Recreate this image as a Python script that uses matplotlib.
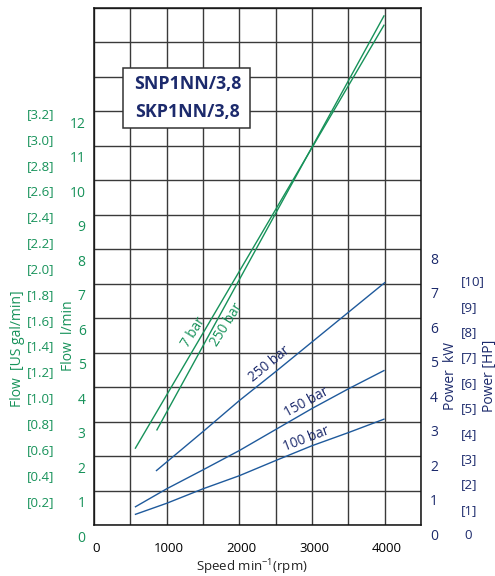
import matplotlib
matplotlib.use('Agg')
import matplotlib.pyplot as plt
import matplotlib.transforms as mtransforms
from matplotlib.patches import Rectangle
import numpy as np

plt.rcParams['font.family'] = ['Open Sans', 'DejaVu Sans']
plt.rcParams['mathtext.default'] = 'regular'

# ---------------- data ----------------
speed_ticks = [0, 1000, 2000, 3000, 4000]
flow_ticks = list(range(0, 13))
gal_ticks = [0.2, 0.4, 0.6, 0.8, 1.0, 1.2, 1.4, 1.6, 1.8, 2.0, 2.2, 2.4, 2.6, 2.8, 3.0, 3.2]
gal_labels = ['[0.2]', '[0.4]', '[0.6]', '[0.8]', '[1.0]', '[1.2]', '[1.4]', '[1.6]',
              '[1.8]', '[2.0]', '[2.2]', '[2.4]', '[2.6]', '[2.8]', '[3.0]', '[3.2]']
kw_ticks = list(range(0, 9))
hp_ticks = list(range(0, 11))
hp_labels = ['0', '[1]', '[2]', '[3]', '[4]', '[5]', '[6]', '[7]', '[8]', '[9]', '[10]']
GAL_TO_LPM = 3.75     # as drawn on the chart
HP_TO_KW = 0.7355

flow7_speed = [570, 3990]
flow7 = [2.23, 14.50]
flow250_speed = [866, 3990]
flow250 = [2.76, 14.77]

pw250_speed = [860, 1500, 2000, 2500, 3000, 3500, 4000]
pw250 = [1.58, 2.71, 3.61, 4.45, 5.31, 6.17, 7.03]
pw150_speed = [571, 1000, 1500, 2000, 2500, 3000, 3500, 3990]
pw150 = [0.53, 1.05, 1.60, 2.16, 2.77, 3.38, 3.95, 4.48]
pw100_speed = [571, 1000, 1500, 2000, 2500, 3000, 3500, 3990]
pw100 = [0.31, 0.63, 1.05, 1.43, 1.87, 2.30, 2.68, 3.07]

GREEN = '#17925a'
NAVY = '#1c2a6c'
BLUE = '#1f5a9c'
GRIDC = '#3a3a3a'

# ---------------- figure ----------------
W, H = 495, 576
fig = plt.figure(figsize=(W / 100, H / 100), dpi=100)
L, R, T, B = 94, 421, 8, 525
ax = fig.add_axes([L / W, 1 - B / H, (R - L) / W, (B - T) / H])
ax.set_xlim(0, 4500)
ax.set_ylim(0, 15)

ax.set_xticks(np.arange(0, 4501, 500))
ax.set_xticklabels([str(v) if v in speed_ticks else '' for v in np.arange(0, 4501, 500)],
                   fontsize=9.5)
ax.set_yticks(np.arange(0, 16, 1))
ax.set_yticklabels([str(v) if v in flow_ticks else '' for v in range(16)],
                   fontsize=10, color=GREEN)
ax.tick_params(axis='both', length=0)
ax.tick_params(axis='x', pad=12)
ax.tick_params(axis='y', pad=6)
ax.grid(True, color=GRIDC, lw=1.0)
ax.set_axisbelow(True)
for s in ax.spines.values():
    s.set_color('#111111')
    s.set_linewidth(1.1)


def shift_labels(labels, dx_px, dy_px):
    off = mtransforms.ScaledTranslation(dx_px / 100, -dy_px / 100, fig.dpi_scale_trans)
    for lab in labels:
        lab.set_transform(lab.get_transform() + off)


shift_labels(ax.get_yticklabels(), 0, 11)
shift_labels(ax.get_xticklabels(), 2, 0)

# gal/min axis (left, outer)
ax4 = ax.twinx()
ax4.set_ylim(0, 15)
ax4.yaxis.tick_left()
ax4.set_yticks([g * GAL_TO_LPM for g in gal_ticks])
ax4.set_yticklabels(gal_labels, fontsize=9.5, color=GREEN)
ax4.tick_params(axis='y', length=0, pad=28.8)
for s in ax4.spines.values():
    s.set_visible(False)
shift_labels(ax4.get_yticklabels(), 0, 1.5)

# kW axis (right)
ax2 = ax.twinx()
ax2.set_ylim(0, 15)
ax2.set_yticks(kw_ticks)
ax2.set_yticklabels([str(v) for v in kw_ticks], fontsize=10, color=NAVY)
ax2.tick_params(axis='y', length=0, pad=6.5)
for s in ax2.spines.values():
    s.set_visible(False)
shift_labels(ax2.get_yticklabels(), 0, 9)

# HP axis (right, outer)
ax3 = ax.twinx()
ax3.set_ylim(0, 15)
ax3.set_yticks([h * HP_TO_KW for h in hp_ticks])
ax3.set_yticklabels(hp_labels, fontsize=9.5, color=NAVY)
ax3.tick_params(axis='y', length=0, pad=28.8)
for s in ax3.spines.values():
    s.set_visible(False)
shift_labels(ax3.get_yticklabels(), 0, 9)
shift_labels(ax3.get_yticklabels()[:1], 3, 0)

# ---------------- curves ----------------
ax.plot(flow7_speed, flow7, color=GREEN, lw=1.0, zorder=4)
ax.plot(flow250_speed, flow250, color=GREEN, lw=1.0, zorder=4)
ax2.plot(pw250_speed, pw250, color=BLUE, lw=1.0, zorder=4)
ax2.plot(pw150_speed, pw150, color=BLUE, lw=1.0, zorder=4)
ax2.plot(pw100_speed, pw100, color=BLUE, lw=1.0, zorder=4)

lab_kw = dict(ha='center', va='center', rotation_mode='anchor', fontsize=9.8)
ax.text(1370, 5.58, '7 bar', color=GREEN, rotation=58, **lab_kw)
ax.text(1830, 5.80, '250 bar', color=GREEN, rotation=58, **lab_kw)
ax2.text(2422, 4.68, '250 bar', color=NAVY, rotation=39, **lab_kw)
ax2.text(2924, 3.56, '150 bar', color=NAVY, rotation=28.5, **lab_kw)
ax2.text(2924, 2.48, '100 bar', color=NAVY, rotation=21, **lab_kw)

# ---------------- title box ----------------
bx0, bx1, by0, by1 = 123, 250, 68, 128
rect = Rectangle(((bx0 - L) / (R - L), (B - by1) / (B - T)),
                 (bx1 - bx0) / (R - L), (by1 - by0) / (B - T),
                 transform=ax.transAxes, facecolor='white', edgecolor='#333333',
                 lw=1.1, zorder=5)
ax2.add_patch(rect)
cx = (188 - L) / (R - L)
ax2.text(cx, (B - 84) / (B - T), 'SNP1NN/3,8', transform=ax.transAxes, ha='center',
         va='center', fontsize=12.8, fontweight='bold', color=NAVY, zorder=6)
ax2.text(cx, (B - 112) / (B - T), 'SKP1NN/3,8', transform=ax.transAxes, ha='center',
         va='center', fontsize=12.8, fontweight='bold', color=NAVY, zorder=6)

# ---------------- axis titles ----------------
fig.text(18 / W, 1 - 349 / H, 'Flow  [US gal/min]', rotation=90, ha='center',
         va='center', fontsize=10, color=GREEN)
fig.text(69 / W, 1 - 336 / H, 'Flow  l/min', rotation=90, ha='center',
         va='center', fontsize=10, color=GREEN)
fig.text(450 / W, 1 - 376 / H, 'Power  kW', rotation=90, ha='center',
         va='center', fontsize=10, color=NAVY)
fig.text(489 / W, 1 - 376 / H, 'Power [HP]', rotation=90, ha='center',
         va='center', fontsize=10, color=NAVY)
fig.text(252 / W, 1 - 567 / H, 'Speed min$^{-1}$(rpm)', ha='center', va='center',
         fontsize=9.5, color='#222222')

fig.savefig('out.png', dpi=100)
